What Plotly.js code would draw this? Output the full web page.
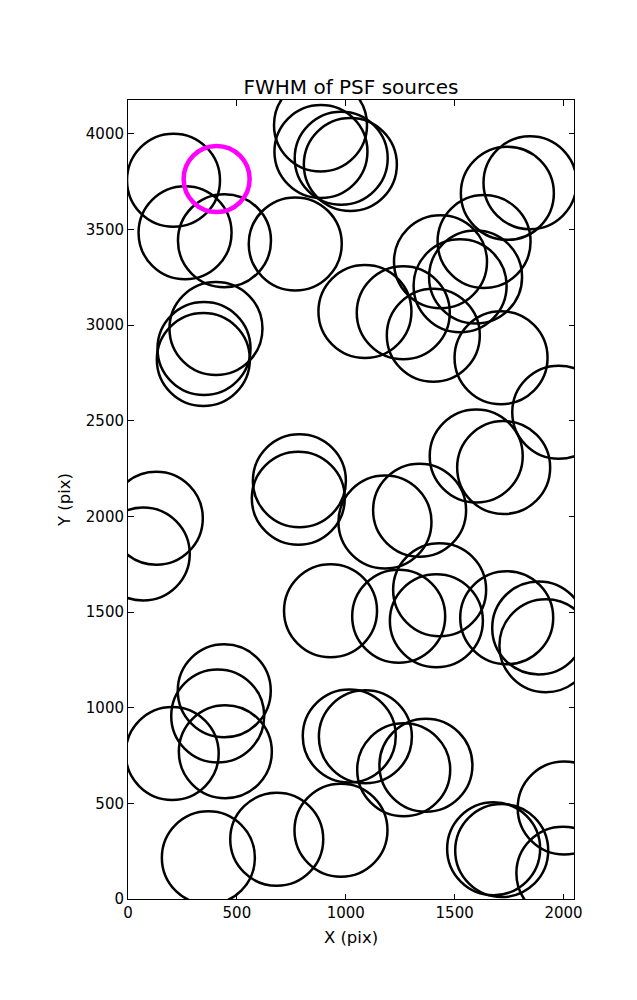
<!DOCTYPE html>
<html>
<head>
<meta charset="utf-8">
<script src="https://cdn.plot.ly/plotly-3.0.1.min.js"></script>
<style>html,body{margin:0;padding:0;background:#fff;}#chart{width:637px;height:1000px;}</style>
</head>
<body>
<div id="chart"></div>
<script>
// PSF source centres (pixel coordinates on the detector)
var srcX = [209, 262, 443, 768, 404, 349, 346,
            884, 886, 979, 1021,
            1846, 1742, 1635, 1435, 1596, 1525,
            1088, 1264, 1402, 1713, 1978,
            1599, 1725, 1339, 1180, 787, 782, 130, 70,
            930, 1243, 1431, 1416, 1739, 1886, 1919,
            442, 412, 447, 203,
            1016, 1090, 1266, 1368,
            2003, 1997, 1679, 1716, 978,
            369, 683];
var srcY = [3756, 3482, 3441, 3424, 2982, 2877, 2820,
            4045, 3907, 3871, 3839,
            3744, 3688, 3436, 3331, 3251, 3205,
            3071, 3064, 2946, 2829, 2544,
            2315, 2255, 2032, 1970, 2186, 2094, 1990, 1803,
            1506, 1478, 1616, 1454, 1470, 1417, 1324,
            1088, 957, 770, 761,
            852, 848, 676, 699,
            476, 135, 263, 253, 359,
            216, 312];
// highlighted source
var selX = [407];
var selY = [3763];

var xTicks = [0, 500, 1000, 1500, 2000];
var yTicks = [0, 500, 1000, 1500, 2000, 2500, 3000, 3500, 4000];
var xRange = [0, 2048];
var yRange = [0, 4176];

var font = 'DejaVu Sans, sans-serif';

var traces = [
  {
    type: 'scatter', mode: 'markers', x: srcX, y: srcY,
    marker: {symbol: 'circle-open', size: 93, color: '#000000',
             line: {width: 2.5, color: '#000000'}},
    hoverinfo: 'skip', showlegend: false
  },
  {
    type: 'scatter', mode: 'markers', x: selX, y: selY,
    marker: {symbol: 'circle-open', size: 66, color: '#ff00ff',
             line: {width: 4.5, color: '#ff00ff'}},
    hoverinfo: 'skip', showlegend: false
  }
];

var axisCommon = {
  showgrid: false, zeroline: false, showline: true, linecolor: '#000', linewidth: 1,
  mirror: 'ticks', ticks: 'inside', ticklen: 5.5, tickwidth: 1, tickcolor: '#000',
  tickfont: {family: font, size: 15, color: '#000'}
};

var layout = {
  width: 637, height: 1000,
  margin: {l: 128, r: 63, t: 100, b: 101, pad: 0},
  paper_bgcolor: '#fff', plot_bgcolor: '#fff',
  font: {family: font, color: '#000'},
  title: {text: 'FWHM of PSF sources', font: {family: font, size: 20, color: '#000'},
          x: 0.5, xref: 'paper', xanchor: 'center', y: 0.913, yref: 'container', yanchor: 'middle'},
  xaxis: Object.assign({}, axisCommon, {
    range: xRange, tickmode: 'array', tickvals: xTicks, ticktext: xTicks.map(String),
    title: {text: 'X (pix)', font: {family: font, size: 16.5, color: '#000'}, standoff: 10}
  }),
  yaxis: Object.assign({}, axisCommon, {
    range: yRange, tickmode: 'array', tickvals: yTicks, ticktext: yTicks.map(String),
    title: {text: 'Y (pix)', font: {family: font, size: 16.5, color: '#000'}, standoff: 11}
  }),
  showlegend: false
};

Plotly.newPlot('chart', traces, layout, {staticPlot: true, displayModeBar: false});
</script>
</body>
</html>
